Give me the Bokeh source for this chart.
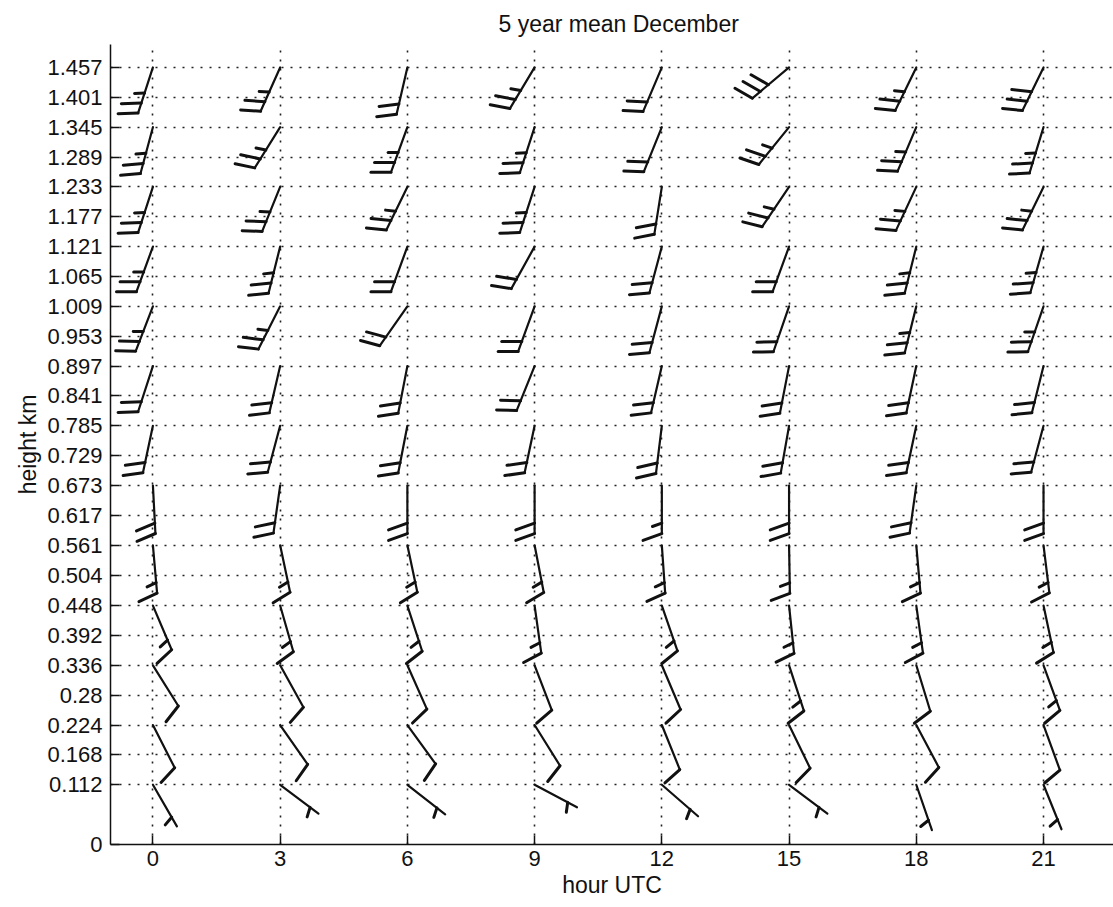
import numpy as np
from bokeh.plotting import figure
from bokeh.models import FixedTicker, Range1d, CustomJSTickFormatter
from bokeh.embed import file_html
from bokeh.resources import INLINE

# ---------------- data ----------------
hours = [0, 3, 6, 9, 12, 15, 18, 21]
levels = [1.457, 1.345, 1.233, 1.121, 1.009, 0.897, 0.785, 0.673, 0.561, 0.448, 0.336, 0.224, 0.112]

ytick_values = [0, 0.112, 0.168, 0.224, 0.28, 0.336, 0.392, 0.448, 0.504, 0.561, 0.617, 0.673,
                0.729, 0.785, 0.841, 0.897, 0.953, 1.009, 1.065, 1.121, 1.177, 1.233, 1.289,
                1.345, 1.401, 1.457]
ytick_labels = ["0", "0.112", "0.168", "0.224", "0.28", "0.336", "0.392", "0.448", "0.504", "0.561",
                "0.617", "0.673", "0.729", "0.785", "0.841", "0.897", "0.953", "1.009", "1.065",
                "1.121", "1.177", "1.233", "1.289", "1.345", "1.401", "1.457"]
xtick_values = [0, 3, 6, 9, 12, 15, 18, 21]

# wind direction (deg, direction the staff points to) per level, top to bottom
dir_h00 = [198, 195, 198, 200, 201, 198, 192, 177, 175, 157, 148, 153, 150]
dir_h03 = [204, 212, 202, 194, 207, 193, 195, 188, 168, 164, 151, 145, 127]
dir_h06 = [193, 200, 206, 200, 215, 191, 191, 180, 168, 162, 156, 144, 128]
dir_h09 = [211, 198, 198, 209, 200, 202, 192, 180, 169, 172, 159, 148, 118]
dir_h12 = [203, 202, 189, 195, 195, 193, 187, 180, 176, 161, 157, 158, 131]
dir_h15 = [230, 219, 214, 200, 199, 191, 190, 180, 179, 174, 162, 154, 127]
dir_h18 = [206, 203, 205, 194, 194, 192, 192, 188, 175, 172, 163, 152, 161]
dir_h21 = [206, 197, 206, 196, 199, 194, 195, 180, 173, 168, 160, 160, 158]

# wind speed (full barb = 10, half barb = 5)
spd_h00 = [25, 25, 25, 25, 25, 20, 20, 20, 15, 15, 10, 10, 5]
spd_h03 = [25, 25, 25, 25, 25, 20, 20, 20, 15, 15, 10, 10, 5]
spd_h06 = [20, 25, 25, 20, 20, 20, 20, 20, 15, 15, 10, 10, 5]
spd_h09 = [25, 25, 25, 20, 20, 20, 20, 20, 15, 15, 10, 10, 5]
spd_h12 = [20, 20, 20, 20, 20, 20, 20, 15, 15, 15, 10, 10, 5]
spd_h15 = [30, 25, 25, 20, 20, 20, 20, 20, 15, 15, 15, 10, 5]
spd_h18 = [25, 25, 25, 25, 25, 20, 20, 20, 15, 15, 10, 10, 5]
spd_h21 = [30, 25, 25, 25, 25, 20, 20, 20, 15, 15, 15, 10, 5]

directions = [dir_h00, dir_h03, dir_h06, dir_h09, dir_h12, dir_h15, dir_h18, dir_h21]
speeds = [spd_h00, spd_h03, spd_h06, spd_h09, spd_h12, spd_h15, spd_h18, spd_h21]

# ---------------- layout ----------------
FW, FH = 1003, 800
X0, X1 = -1.0, 22.65
Y0, Y1 = 0.0, 1.5
pxx = FW / (X1 - X0)   # px per hour
pxy = FH / (Y1 - Y0)   # px per km

STAFF = 48.0
FULL = 20.0
HALF = 10.0
SPACE = 10.5
BARB_ROT = 70.0

def unit(bearing):
    b = np.radians(bearing)
    return np.sin(b), -np.cos(b)   # screen x right, y down

staff_xs, staff_ys, barb_xs, barb_ys = [], [], [], []
for h, dlist, slist in zip(hours, directions, speeds):
    for lev, d, s in zip(levels, dlist, slist):
        ux, uy = unit(d)
        ex, ey = ux * STAFF, uy * STAFF
        staff_xs.append([h, h + ex / pxx])
        staff_ys.append([lev, lev - ey / pxy])
        nfull = int(s // 10)
        nhalf = int((s % 10) // 5)
        bx, by = unit(d + BARB_ROT)
        items = [FULL] * nfull + [HALF] * nhalf
        start = 0 if nfull > 0 else 1
        for i, ln in enumerate(items):
            dist = STAFF - (i + start) * SPACE
            px0, py0 = ux * dist, uy * dist
            px1, py1 = px0 + bx * ln, py0 + by * ln
            barb_xs.append([h + px0 / pxx, h + px1 / pxx])
            barb_ys.append([lev - py0 / pxy, lev - py1 / pxy])

# ---------------- figure ----------------
p = figure(frame_width=FW, frame_height=FH,
           x_range=Range1d(X0, X1), y_range=Range1d(Y0, Y1),
           output_backend="svg", toolbar_location=None,
           min_border_left=110, min_border_right=0, min_border_top=43, min_border_bottom=64)
p.outline_line_color = None
p.background_fill_color = "white"

FONT = "Liberation Sans"
p.title.text = "5 year mean December"
p.title.align = "left"
p.title.offset = 388
p.title.text_font = FONT
p.title.text_font_size = "23px"
p.title.text_font_style = "normal"
p.title.text_color = "#111111"
p.title.standoff = 16

p.xaxis.ticker = FixedTicker(ticks=xtick_values)
p.yaxis.ticker = FixedTicker(ticks=ytick_values)
p.yaxis.formatter = CustomJSTickFormatter(args=dict(vals=ytick_values, labs=ytick_labels), code="""
    let best = 0, bd = 1e9;
    for (let i = 0; i < vals.length; i++) { const d = Math.abs(vals[i] - tick); if (d < bd) { bd = d; best = i; } }
    return labs[best];
""")

for ax in (p.xaxis, p.yaxis):
    ax.major_tick_in = 9
    ax.major_tick_out = 0
    ax.minor_tick_line_color = None
    ax.axis_line_color = "#111111"
    ax.axis_line_width = 1.5
    ax.major_tick_line_color = "#111111"
    ax.major_tick_line_width = 1.5
    ax.major_label_text_font = FONT
    ax.major_label_text_font_size = "22px"
    ax.major_label_text_color = "#111111"
    ax.axis_label_text_font = FONT
    ax.axis_label_text_font_size = "23px"
    ax.axis_label_text_font_style = "normal"
    ax.axis_label_text_color = "#111111"
    ax.axis_label_standoff = 3
    ax.major_label_standoff = 8

p.xaxis.major_label_standoff = 6
p.xaxis.axis_label = "hour UTC"
p.yaxis.axis_label = "height km"

for g in (p.xgrid, p.ygrid):
    g.grid_line_color = "#222222"
    g.grid_line_dash = "2 7"
    g.grid_line_width = 1.6
    g.grid_line_alpha = 1.0

p.multi_line(xs=staff_xs, ys=staff_ys, line_color="#111111", line_width=2.2, line_cap="round")
p.multi_line(xs=barb_xs, ys=barb_ys, line_color="#111111", line_width=3, line_cap="round")

open("out.html", "w").write(file_html(p, INLINE))
